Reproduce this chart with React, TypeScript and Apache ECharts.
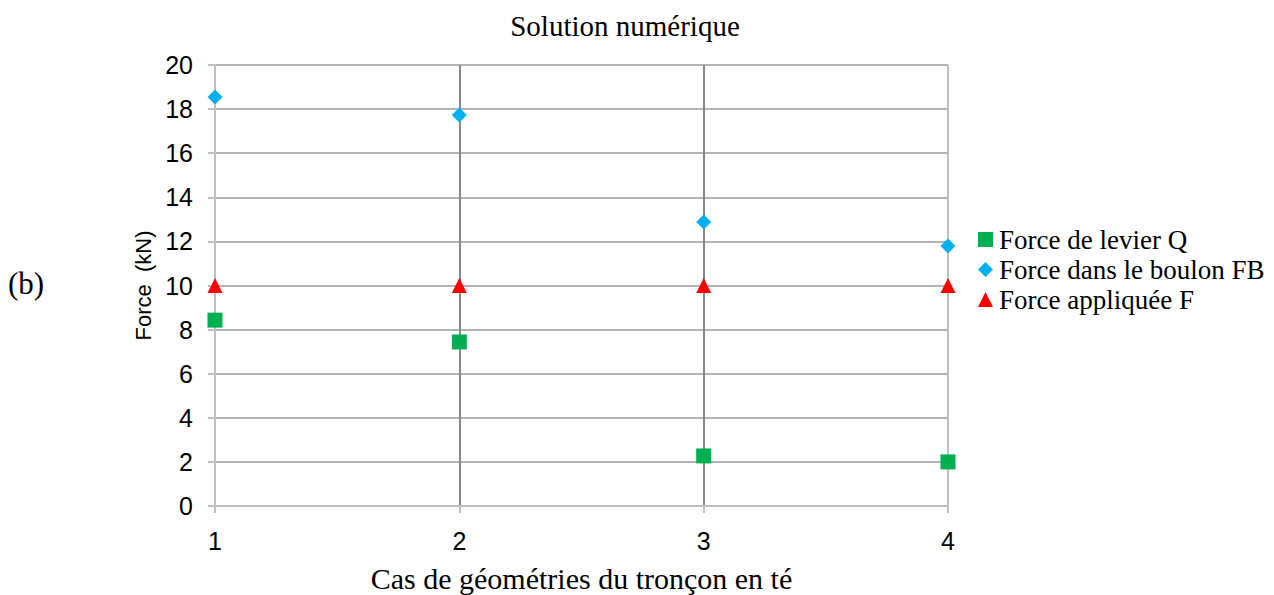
import React, { useEffect, useRef } from "react";
import * as echarts from "echarts";

const cases = [1, 2, 3, 4];
const leverForce = [8.43, 7.44, 2.27, 2.0];
const boltForce = [18.55, 17.73, 12.88, 11.79];
const appliedForce = [10, 10, 10, 10];
const seriesNames = ["Force de levier Q", "Force dans le boulon FB", "Force appliquée F"];

export default function App() {
  const ref = useRef<HTMLDivElement>(null);
  useEffect(() => {
    const chart = echarts.init(ref.current!, null, { renderer: "svg" });
    const pts = (ys: number[]) => cases.map((x, i) => [x, ys[i]]);
    chart.setOption({
      animation: false,
      backgroundColor: "#ffffff",
      title: {
        text: "Solution numérique",
        left: 620,
        textAlign: "center",
        top: 6,
        textStyle: { fontFamily: "Liberation Serif", fontSize: 29, fontWeight: "normal", color: "#000" },
      },
      legend: {
        orient: "vertical",
        left: 978,
        top: 226,
        padding: 0,
        itemGap: 3,
        itemWidth: 15,
        itemHeight: 15,
        textStyle: { fontFamily: "Liberation Serif", fontSize: 27, color: "#000", padding: [0, 0, 0, 1] },
        data: seriesNames,
      },
      grid: { left: 215, right: 326, top: 65, bottom: 89, outerBoundsMode: "none", containLabel: false },
      xAxis: {
        type: "value",
        min: 1,
        max: 4,
        interval: 1,
        name: "Cas de géométries du tronçon en té",
        nameLocation: "middle",
        nameGap: 57,
        nameTextStyle: { fontFamily: "Liberation Serif", fontSize: 30, color: "#000" },
        axisLine: { show: true, onZero: false, lineStyle: { color: "#bfbfbf", width: 2 } },
        axisTick: { show: true, length: 7, lineStyle: { color: "#bfbfbf", width: 2 } },
        axisLabel: { margin: 22, fontFamily: "Liberation Sans", fontSize: 25, color: "#000" },
        splitLine: { show: true, lineStyle: { color: ["#bfbfbf", "#888888", "#888888", "#bfbfbf"], width: 2 } },
      },
      yAxis: {
        type: "value",
        min: 0,
        max: 20,
        interval: 2,
        name: "Force  (kN)",
        nameLocation: "middle",
        nameGap: 61,
        nameRotate: 90,
        nameTextStyle: { fontFamily: "Liberation Sans", fontSize: 22, color: "#000" },
        axisLine: { show: true, onZero: false, lineStyle: { color: "#bfbfbf", width: 2 } },
        axisTick: { show: true, length: 7, lineStyle: { color: "#bfbfbf", width: 2 } },
        axisLabel: { margin: 22, fontFamily: "Liberation Sans", fontSize: 25, color: "#000" },
        splitLine: { show: true, lineStyle: { color: "#b3b3b3", width: 2 } },
      },
      graphic: [
        {
          type: "text",
          left: 8,
          top: 268,
          style: { text: "(b)", font: "31px 'Liberation Serif'", fill: "#000" },
        },
      ],
      series: [
        {
          name: seriesNames[0],
          type: "scatter",
          symbol: "rect",
          symbolSize: 15,
          itemStyle: { color: "#00B050", opacity: 1 },
          data: pts(leverForce),
        },
        {
          name: seriesNames[1],
          type: "scatter",
          symbol: "diamond",
          symbolSize: 15,
          itemStyle: { color: "#00B0F0", opacity: 1 },
          data: pts(boltForce),
        },
        {
          name: seriesNames[2],
          type: "scatter",
          symbol: "triangle",
          symbolSize: 15,
          itemStyle: { color: "#FF0000", opacity: 1 },
          data: pts(appliedForce),
        },
      ],
    });
    return () => chart.dispose();
  }, []);
  return <div ref={ref} style={{ width: 1274, height: 595, position: "absolute", left: 0, top: 0 }} />;
}
